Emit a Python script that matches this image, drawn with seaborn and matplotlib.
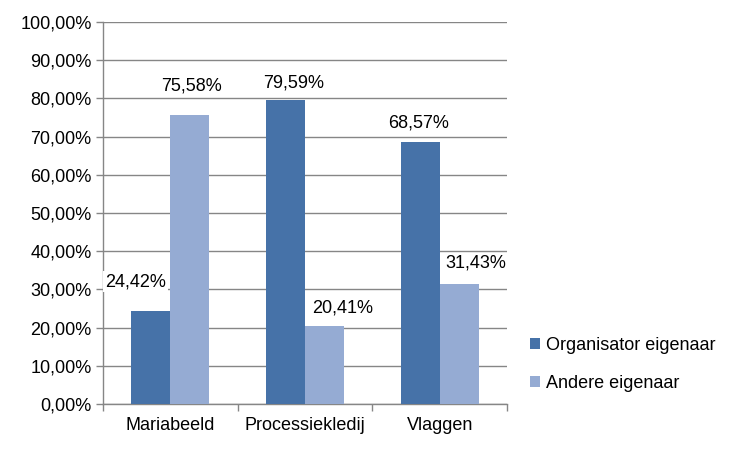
import matplotlib
matplotlib.use("Agg")
import matplotlib.pyplot as plt
import seaborn as sns
import pandas as pd
from matplotlib.ticker import FuncFormatter, MultipleLocator
from matplotlib.patches import Patch

categories = ["Mariabeeld", "Processiekledij", "Vlaggen"]
series_names = ["Organisator eigenaar", "Andere eigenaar"]
organisator = [24.42, 79.59, 68.57]
andere = [75.58, 20.41, 31.43]
colors = ["#4672A8", "#95ABD3"]

# data-label nudges (points) relative to the bar's top centre, per series
label_nudges = [
    [(-11, 21), (6, 12), (-1, 14)],
    [(1, 21), (13, 13), (12, 15)],
]

df = pd.DataFrame({
    "cat": categories * 2,
    "val": organisator + andere,
    "series": [series_names[0]] * 3 + [series_names[1]] * 3,
})

sns.set_style("white")
plt.rcParams["font.family"] = ["Liberation Sans", "DejaVu Sans"]
plt.rcParams["text.color"] = "black"
plt.rcParams["xtick.color"] = "black"
plt.rcParams["ytick.color"] = "black"
FS = 13

fig = plt.figure(figsize=(7.5, 4.5), dpi=100)
ax = fig.add_axes([0.137, 0.102, 0.539, 0.849])

sns.barplot(data=df, x="cat", y="val", hue="series", palette=colors,
            width=0.58, saturation=1, ax=ax, legend=False, zorder=3,
            linewidth=0, edgecolor="none")

ax.set_ylim(0, 100)
ax.set_xlim(-0.5, 2.5)
ax.yaxis.set_major_locator(MultipleLocator(10))
ax.yaxis.set_major_formatter(FuncFormatter(lambda v, p: f"{v:.2f}".replace(".", ",") + "%"))
ax.grid(axis="y", color="#868686", linewidth=1, zorder=0)
ax.set_axisbelow(True)
for s in ["top", "right"]:
    ax.spines[s].set_visible(False)
for s in ["left", "bottom"]:
    ax.spines[s].set_color("#868686")
    ax.spines[s].set_linewidth(1)
ax.set_xlabel("")
ax.set_ylabel("")

ax.set_xticks([0, 1, 2])
ax.set_xticklabels(categories, fontsize=FS, color="black")
ax.set_xticks([-0.5, 0.5, 1.5, 2.5], minor=True)
ax.tick_params(axis="x", which="major", length=0, pad=9, labelcolor="black")
ax.tick_params(axis="x", which="minor", length=5, color="#868686", width=1, bottom=True)
ax.tick_params(axis="y", length=5, color="#868686", width=1, labelsize=FS, pad=3,
               left=True, labelcolor="black")

for si, container in enumerate(ax.containers):
    for ci, bar in enumerate(container):
        h = bar.get_height()
        ax.annotate(f"{h:.2f}".replace(".", ",") + "%",
                    xy=(bar.get_x() + bar.get_width() / 2, h),
                    xytext=label_nudges[si][ci], textcoords="offset points",
                    ha="center", va="center", fontsize=FS, color="black", zorder=5,
                    bbox=dict(boxstyle="square,pad=0.1", fc="white", ec="none"))

handles = [Patch(facecolor=c, edgecolor="none") for c in colors]
leg = fig.legend(handles, series_names, loc="center left", bbox_to_anchor=(0.685, 0.19),
                 frameon=False, fontsize=FS, handlelength=0.55, handleheight=0.55,
                 handletextpad=0.35, labelspacing=1.15)
for t in leg.get_texts():
    t.set_color("black")

fig.savefig("out.png", dpi=100)
